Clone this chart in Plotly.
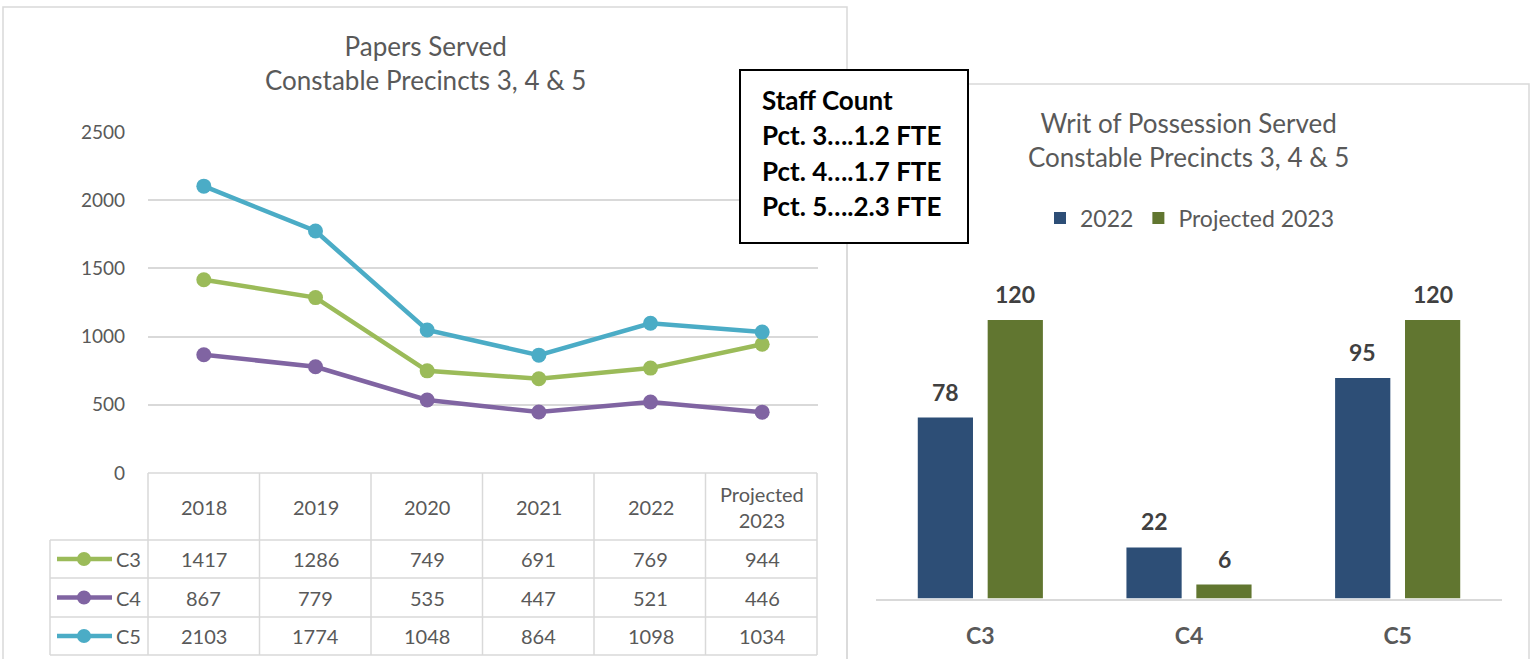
import plotly.graph_objects as go

# ---------------- data ----------------
years = ["2018", "2019", "2020", "2021", "2022", "Projected<br>2023"]
series_names = ["C3", "C4", "C5"]
c3_papers = [1417, 1286, 749, 691, 769, 944]
c4_papers = [867, 779, 535, 447, 521, 446]
c5_papers = [2103, 1774, 1048, 864, 1098, 1034]
line_colors = ["#9BBB59", "#8064A2", "#4BACC6"]

writ_categories = ["C3", "C4", "C5"]
writ_2022 = [78, 22, 95]
writ_proj_2023 = [120, 6, 120]
bar_names = ["2022", "Projected 2023"]
bar_colors = ["#2D4E76", "#617630"]

staff_lines = ["Staff Count", "Pct. 3….1.2 FTE", "Pct. 4….1.7 FTE", "Pct. 5….2.3 FTE"]

W, H = 1535, 659
FONT = "Lato"
GRAY = "#595959"
GRID = "#D9D9D9"


def px(x):
    return x / W


def py(y):
    return 1 - y / H


fig = go.Figure()

# ---------------- left line chart ----------------
papers = [c3_papers, c4_papers, c5_papers]
for name, vals, col in zip(series_names, papers, line_colors):
    fig.add_trace(go.Scatter(
        x=list(range(len(years))), y=vals, name=name, mode="lines+markers",
        line=dict(color=col, width=4.5), marker=dict(color=col, size=15),
        xaxis="x", yaxis="y", showlegend=False))

# ---------------- right bar chart ----------------
for name, vals, col in zip(bar_names, [writ_2022, writ_proj_2023], bar_colors):
    fig.add_trace(go.Bar(
        x=writ_categories, y=vals, name=name, marker=dict(color=col, line=dict(width=0)),
        xaxis="x2", yaxis="y2", showlegend=True))

annotations = []
shapes = []

# bar data labels
for vals, shift in zip([writ_2022, writ_proj_2023], [-35, 35]):
    for cat, v in zip(writ_categories, vals):
        annotations.append(dict(
            x=cat, y=v, xref="x2", yref="y2", text=f"<b>{v}</b>", showarrow=False,
            xshift=shift, yshift=26, xanchor="center", yanchor="middle",
            font=dict(family=FONT, size=23, color="#404040")))

# chart frames
shapes.append(dict(type="rect", xref="paper", yref="paper",
                   x0=px(3), x1=px(847), y0=py(7), y1=py(700),
                   line=dict(color=GRID, width=1.5), layer="below"))
shapes.append(dict(type="rect", xref="paper", yref="paper",
                   x0=px(847), x1=px(1529), y0=py(84), y1=py(700),
                   line=dict(color=GRID, width=1.5), layer="below"))

# titles
annotations.append(dict(x=px(425), y=py(63), xref="paper", yref="paper",
                        text="Papers Served<br>Constable Precincts 3, 4 & 5",
                        showarrow=False, align="center", xanchor="center", yanchor="middle",
                        font=dict(family=FONT, size=26, color=GRAY)))
annotations.append(dict(x=px(1188), y=py(140), xref="paper", yref="paper",
                        text="Writ of Possession Served<br>Constable Precincts 3, 4 & 5",
                        showarrow=False, align="center", xanchor="center", yanchor="middle",
                        font=dict(family=FONT, size=26, color=GRAY)))

# ---------------- data table under line chart ----------------
tbl_left, tbl_right = 148, 817
legend_left = 50
header_top, header_bot = 473, 540
row_edges = [540, 578, 617, 655]
n = len(years)
col_w = (tbl_right - tbl_left) / n
col_edges = [tbl_left + i * col_w for i in range(n + 1)]

for xe in col_edges:
    shapes.append(dict(type="line", xref="paper", yref="paper",
                       x0=px(xe), x1=px(xe), y0=py(header_top), y1=py(row_edges[-1]),
                       line=dict(color=GRID, width=1.5)))
shapes.append(dict(type="line", xref="paper", yref="paper",
                   x0=px(legend_left), x1=px(legend_left), y0=py(row_edges[0]), y1=py(row_edges[-1]),
                   line=dict(color=GRID, width=1.5)))
shapes.append(dict(type="line", xref="paper", yref="paper",
                   x0=px(tbl_left), x1=px(tbl_right), y0=py(header_top), y1=py(header_top),
                   line=dict(color=GRID, width=1.5)))
for ye in row_edges:
    shapes.append(dict(type="line", xref="paper", yref="paper",
                       x0=px(legend_left), x1=px(tbl_right), y0=py(ye), y1=py(ye),
                       line=dict(color=GRID, width=1.5)))

# header labels (positioned on the category axis)
for i, yr in enumerate(years):
    annotations.append(dict(x=i, y=py((header_top + header_bot) / 2), xref="x", yref="paper",
                            text=yr, showarrow=False, align="center",
                            xanchor="center", yanchor="middle",
                            font=dict(family=FONT, size=20, color=GRAY)))

# rows
for r, (name, vals, col) in enumerate(zip(series_names, papers, line_colors)):
    yc = (row_edges[r] + row_edges[r + 1]) / 2
    for i, v in enumerate(vals):
        annotations.append(dict(x=i, y=py(yc), xref="x", yref="paper", text=str(v),
                                showarrow=False, xanchor="center", yanchor="middle",
                                font=dict(family=FONT, size=20, color=GRAY)))
    shapes.append(dict(type="line", xref="paper", yref="paper",
                       x0=px(57), x1=px(112), y0=py(yc), y1=py(yc),
                       line=dict(color=col, width=4.5)))
    shapes.append(dict(type="circle", xref="paper", yref="paper",
                       x0=px(84 - 7), x1=px(84 + 7), y0=py(yc - 7), y1=py(yc + 7),
                       fillcolor=col, line=dict(color=col, width=0)))
    annotations.append(dict(x=px(114), y=py(yc), xref="paper", yref="paper", text=name,
                            showarrow=False, xanchor="left", yanchor="middle",
                            font=dict(family=FONT, size=20, color=GRAY)))

# ---------------- staff count box ----------------
shapes.append(dict(type="rect", xref="paper", yref="paper",
                   x0=px(740), x1=px(968), y0=py(70), y1=py(243),
                   fillcolor="white", line=dict(color="black", width=2), layer="above"))
for k, t in enumerate(staff_lines):
    annotations.append(dict(x=px(760), y=py(100 + k * 35.3), xref="paper", yref="paper",
                            text=f"<b>{t}</b>", showarrow=False, xanchor="left", yanchor="middle",
                            font=dict(family=FONT, size=26, color="black")))

fig.update_layout(
    width=W, height=H,
    margin=dict(l=0, r=0, t=0, b=0, autoexpand=False),
    paper_bgcolor="white", plot_bgcolor="rgba(0,0,0,0)",
    font=dict(family=FONT, color=GRAY),
    xaxis=dict(domain=[px(148), px(818)], range=[-0.5, n - 0.5], showgrid=False,
               showticklabels=False, zeroline=False, showline=False, automargin=False),
    yaxis=dict(domain=[py(473), py(132)], range=[0, 2500], dtick=500, automargin=False,
               showgrid=True, gridcolor=GRID, gridwidth=1.5, zeroline=False,
               showline=False, ticks="", ticklabelstandoff=22,
               tickfont=dict(family=FONT, size=19, color=GRAY)),
    xaxis2=dict(domain=[px(876), px(1502)], anchor="y2", showgrid=False, zeroline=False,
                showline=True, linecolor=GRID, linewidth=1.5, ticks="", automargin=False,
                tickvals=writ_categories, ticktext=[f"<b>{c}</b>" for c in writ_categories],
                ticklabelstandoff=16,
                tickfont=dict(family=FONT, size=23, color=GRAY)),
    yaxis2=dict(domain=[py(598.5), py(250.5)], anchor="x2", range=[0, 150],
                visible=False, automargin=False),
    barmode="group", bargap=0.33, bargroupgap=0.21,
    legend=dict(orientation="h", x=px(1190), y=py(218), xanchor="center", yanchor="middle",
                font=dict(family=FONT, size=23, color=GRAY), bgcolor="rgba(0,0,0,0)",
                itemwidth=30, traceorder="normal"),
    annotations=annotations,
    shapes=shapes,
)

fig.write_html("out.html", config={"displayModeBar": False},
               post_script="document.body.style.margin='0';")
